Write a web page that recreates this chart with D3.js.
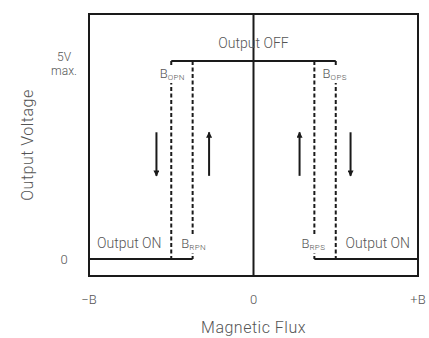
<!DOCTYPE html>
<html>
<head>
<meta charset="utf-8">
<script src="https://cdn.jsdelivr.net/npm/d3@7"></script>
<style>
  body { margin: 0; background: #fff; }
  text { font-family: Roboto, "DejaVu Sans", sans-serif; fill: #555; font-weight: 300; }
</style>
</head>
<body>
<div id="visual"></div>
<script>
// data
const fluxTicks = [-1, 0, 1];
const fluxLabels = ["\u2212B", "0", "+B"];
const voltTicks = [0, 5];
const thresholdNames = ["OPN", "RPN", "RPS", "OPS"];
const thresholdFlux = [-0.5, -0.37, 0.37, 0.5];
const arrowFlux = [-0.59, -0.27, 0.28, 0.59];
const arrowDir = ["down", "up", "up", "down"];
const arrowSpan = [2.1, 3.2];
const stateLabels = ["Output OFF", "Output ON", "Output ON"];

const width = 429, height = 338;
const svg = d3.select("#visual").append("svg")
  .attr("width", width).attr("height", height);

const x = d3.scaleLinear().domain([-1, 1]).range([89, 418]);
const y = d3.scaleLinear().domain([0, 5]).range([259, 61]);
const frameTop = 14, frameBottom = 276;

const ink = "#1a1a1a";

// frame + zero axis
svg.append("rect")
  .attr("x", x(-1)).attr("y", frameTop)
  .attr("width", x(1) - x(-1)).attr("height", frameBottom - frameTop)
  .attr("fill", "none").attr("stroke", ink).attr("stroke-width", 2);
svg.append("line")
  .attr("x1", x(0)).attr("x2", x(0)).attr("y1", frameTop).attr("y2", frameBottom)
  .attr("stroke", ink).attr("stroke-width", 2);

// dashed threshold lines
svg.selectAll(".thr").data(thresholdFlux).enter().append("line")
  .attr("class", "thr")
  .attr("x1", d => x(d)).attr("x2", d => x(d))
  .attr("y1", y(5)).attr("y2", y(0))
  .attr("stroke", ink).attr("stroke-width", 2)
  .attr("stroke-dasharray", "4,2.5");

// output levels
const levels = [
  [[thresholdFlux[0], 5], [thresholdFlux[3], 5]],
  [[-1, 0], [thresholdFlux[1], 0]],
  [[thresholdFlux[2], 0], [1, 0]]
];
svg.selectAll(".lvl").data(levels).enter().append("path")
  .attr("class", "lvl")
  .attr("d", d3.line().x(d => x(d[0])).y(d => y(d[1])))
  .attr("fill", "none").attr("stroke", ink).attr("stroke-width", 2);

// arrows
svg.append("defs").append("marker")
  .attr("id", "head").attr("viewBox", "0 0 10 10")
  .attr("refX", 9).attr("refY", 5)
  .attr("markerWidth", 4).attr("markerHeight", 3)
  .attr("markerUnits", "strokeWidth")
  .attr("orient", "auto")
  .append("path").attr("d", "M0,0L10,5L0,10Z").attr("fill", ink);

svg.selectAll(".arrow").data(arrowFlux).enter().append("line")
  .attr("class", "arrow")
  .attr("x1", d => x(d)).attr("x2", d => x(d))
  .attr("y1", (d, i) => arrowDir[i] == "down" ? y(arrowSpan[1]) : y(arrowSpan[0]))
  .attr("y2", (d, i) => arrowDir[i] == "down" ? y(arrowSpan[0]) : y(arrowSpan[1]))
  .attr("stroke", ink).attr("stroke-width", 2)
  .attr("marker-end", "url(#head)");

// threshold labels, white box behind so dashed lines break
thresholdFlux.forEach((f, i) => {
  const top = (i == 0 || i == 3);
  const g = svg.append("g");
  const t = g.append("text")
    .attr("x", x(f) + (i < 2 ? 1 : -1)).attr("y", top ? y(5) + 17 : y(0) - 11)
    .attr("text-anchor", "middle")
    .style("font-size", "13px");
  t.append("tspan").text("B");
  t.append("tspan").attr("dy", 2).style("font-size", "8px")
    .style("letter-spacing", "0.4px").text(thresholdNames[i]);
  const bb = t.node().getBBox();
  g.insert("rect", "text")
    .attr("x", bb.x - 1).attr("y", bb.y - 1)
    .attr("width", bb.width + 2).attr("height", bb.height + 2)
    .attr("fill", "#fff");
});

// state labels
svg.append("text").attr("x", x(0)).attr("y", y(5) - 13)
  .attr("text-anchor", "middle").style("font-size", "14px").text(stateLabels[0]);
svg.append("text").attr("x", x(-1) + 8).attr("y", y(0) - 11)
  .style("font-size", "14px").text(stateLabels[1]);
svg.append("text").attr("x", x(1) - 8).attr("y", y(0) - 11)
  .attr("text-anchor", "end").style("font-size", "14px").text(stateLabels[2]);

// y tick labels
svg.append("text").attr("x", 64).attr("y", y(5))
  .attr("text-anchor", "middle").style("font-size", "12px").text("5V");
svg.append("text").attr("x", 64).attr("y", y(5) + 14)
  .attr("text-anchor", "middle").style("font-size", "12px").text("max.");
svg.append("text").attr("x", 64).attr("y", y(voltTicks[0]) + 5)
  .attr("text-anchor", "middle").style("font-size", "13px").text("0");

// x tick labels
svg.selectAll(".xt").data(fluxTicks).enter().append("text")
  .attr("class", "xt")
  .attr("x", d => x(d)).attr("y", 304)
  .attr("text-anchor", "middle").style("font-size", "13px")
  .text((d, i) => fluxLabels[i]);

// axis titles
svg.append("text").attr("x", x(0)).attr("y", 333)
  .attr("text-anchor", "middle").style("font-size", "16px")
  .style("letter-spacing", "0.5px").text("Magnetic Flux");
svg.append("text")
  .attr("transform", "translate(33," + (frameTop + frameBottom) / 2 + ") rotate(-90)")
  .attr("text-anchor", "middle").style("font-size", "16px")
  .style("letter-spacing", "0.5px").text("Output Voltage");
</script>
</body>
</html>
